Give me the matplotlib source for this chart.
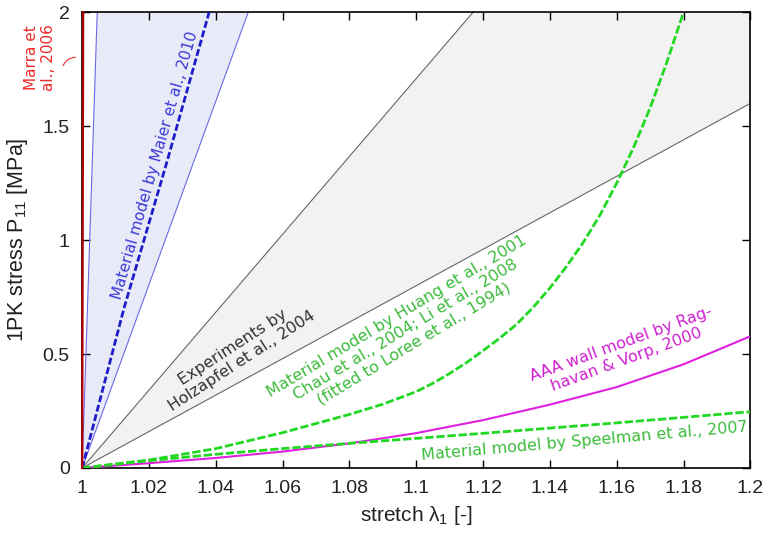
import matplotlib
matplotlib.use("Agg")
import matplotlib.pyplot as plt
from matplotlib.ticker import FuncFormatter

# stretch / stress readings (MPa)
marra_lam = [1.0, 1.0003]
marra_p = [0.0, 2.0]

maier_lam = [1.0, 1.0125, 1.0255, 1.038]
maier_p = [0.0, 0.70, 1.35, 2.0]
maier_lo_lam = [1.0, 1.0497]
maier_hi_lam = [1.0, 1.0045]
maier_band_p = [0.0, 2.0]

holz_hi_lam = [1.0, 1.117]
holz_hi_p = [0.0, 2.0]
holz_lo_lam = [1.0, 1.2]
holz_lo_p = [0.0, 1.6]

huang_lam = [1.0, 1.02, 1.04, 1.06, 1.08, 1.09, 1.10, 1.105, 1.11, 1.115, 1.12, 1.125,
             1.13, 1.135, 1.14, 1.145, 1.15, 1.155, 1.16, 1.165, 1.17, 1.175, 1.18]
huang_p = [0.0, 0.035, 0.085, 0.155, 0.235, 0.28, 0.335, 0.372, 0.415, 0.462, 0.515, 0.57,
           0.63, 0.705, 0.79, 0.885, 0.99, 1.11, 1.25, 1.405, 1.58, 1.78, 2.0]

ragh_lam = [1.0, 1.02, 1.04, 1.06, 1.08, 1.10, 1.12, 1.14, 1.16, 1.18, 1.2]
ragh_p = [0.0, 0.021, 0.044, 0.072, 0.108, 0.153, 0.21, 0.278, 0.355, 0.455, 0.578]

speel_lam = [1.0, 1.02, 1.04, 1.06, 1.08, 1.10, 1.12, 1.14, 1.16, 1.18, 1.2]
speel_p = [0.0, 0.032, 0.06, 0.085, 0.108, 0.13, 0.152, 0.175, 0.198, 0.222, 0.247]

xticks = [1.0, 1.02, 1.04, 1.06, 1.08, 1.1, 1.12, 1.14, 1.16, 1.18, 1.2]
yticks = [0, 0.5, 1, 1.5, 2]

plt.rcParams['font.family'] = ['Liberation Sans', 'DejaVu Sans']
plt.rcParams['mathtext.fontset'] = 'custom'
plt.rcParams['mathtext.rm'] = 'Liberation Sans'
plt.rcParams['mathtext.it'] = 'Liberation Sans'

fig = plt.figure(figsize=(7.68, 5.33), dpi=100)
ax = fig.add_axes([0.107, 0.122, 0.870, 0.855])

# grey wedge (Holzapfel experiments)
ax.fill([holz_hi_lam[0], holz_lo_lam[1], holz_lo_lam[1], holz_hi_lam[1]],
        [holz_lo_p[0], holz_lo_p[1], holz_hi_p[1], holz_hi_p[1]],
        color='#f2f2f2', lw=0, zorder=1)
ax.plot(holz_hi_lam, holz_hi_p, color='#666666', lw=0.8, zorder=2)
ax.plot(holz_lo_lam, holz_lo_p, color='#666666', lw=0.8, zorder=2)

# blue band (Maier)
ax.fill([maier_lo_lam[0], maier_hi_lam[1], maier_lo_lam[1]],
        [maier_band_p[0], maier_band_p[1], maier_band_p[1]],
        color='#e9eaf8', lw=0, zorder=1)
ax.plot(maier_lo_lam, maier_band_p, color='#6a6ae6', lw=0.8, zorder=2)
ax.plot(maier_hi_lam, maier_band_p, color='#6a6ae6', lw=0.8, zorder=2)
ax.plot(maier_lam, maier_p, color='#1c1cc8', lw=2, ls=(0, (2.5, 1)), zorder=3)

# curves
ax.plot(huang_lam, huang_p, color='#22d822', lw=2, ls=(0, (3, 1)), zorder=3)
ax.plot(ragh_lam, ragh_p, color='#e020e0', lw=1.5, zorder=3)
ax.plot(speel_lam, speel_p, color='#22d822', lw=2, ls=(0, (3, 1)), zorder=3)
ax.plot(marra_lam, marra_p, color='#b00000', lw=1.6, zorder=4, clip_on=False)

ax.set_xlim(1.0, 1.2)
ax.set_ylim(0, 2)
ax.set_xticks(xticks)
ax.set_yticks(yticks)
ax.xaxis.set_major_formatter(FuncFormatter(lambda v, p: '%g' % round(v, 2)))
ax.yaxis.set_major_formatter(FuncFormatter(lambda v, p: '%g' % v))
ax.tick_params(direction='in', length=6, width=1, top=True, right=True,
               labelsize=14, colors='black', labelcolor='#222222')
ax.tick_params(axis='x', pad=9)
ax.tick_params(axis='y', pad=9)
for s in ax.spines.values():
    s.set_linewidth(1.2)

ax.set_xlabel(r'stretch $\lambda_1$ [-]', fontsize=15, color='#222222', labelpad=5)
ax.set_ylabel(r'1PK stress P$_{11}$ [MPa]', fontsize=15.5, color='#222222', labelpad=9)

# labels on the curves
ann = dict(family='DejaVu Sans', ha='center', va='center',
           rotation_mode='anchor', zorder=5)
ax.text(1.0218, 1.33, 'Material model by Maier et al., 2010', color='#3b3bd6',
        rotation=74, fontsize=11, **ann)
ax.text(1.0464, 0.50, 'Experiments by\nHolzapfel et al., 2004', color='#333333',
        rotation=33, linespacing=1.1, fontsize=11.5, **ann)
ax.text(1.0967, 0.605, 'Material model by Huang et al., 2001\n'
        'Chau et al., 2004; Li et al., 2008\n(fitted to Loree et al., 1994)',
        color='#3cbc3c', rotation=31, linespacing=1.1, fontsize=11.5, **ann)
ax.text(1.162, 0.51, 'AAA wall model by Rag-\nhavan & Vorp, 2000', color='#d020d0',
        rotation=20, linespacing=1.1, fontsize=11.5, **ann)
ax.text(1.1503, 0.118, 'Material model by Speelman et al., 2007', color='#3cbc3c',
        rotation=5, fontsize=11.5, **ann)

ax.text(-0.063, 0.90, 'Marra et\nal., 2006', color='#ee2a2a', transform=ax.transAxes,
        rotation=90, clip_on=False, family='DejaVu Sans', fontsize=11,
        ha='center', va='center', linespacing=1.1)
ax.annotate('', xy=(-0.006, 0.901), xytext=(-0.030, 0.877), xycoords='axes fraction',
            arrowprops=dict(arrowstyle='-', color='#ee2a2a', lw=0.8,
                            connectionstyle='arc3,rad=-0.4'))

fig.savefig('out.png', dpi=100)
